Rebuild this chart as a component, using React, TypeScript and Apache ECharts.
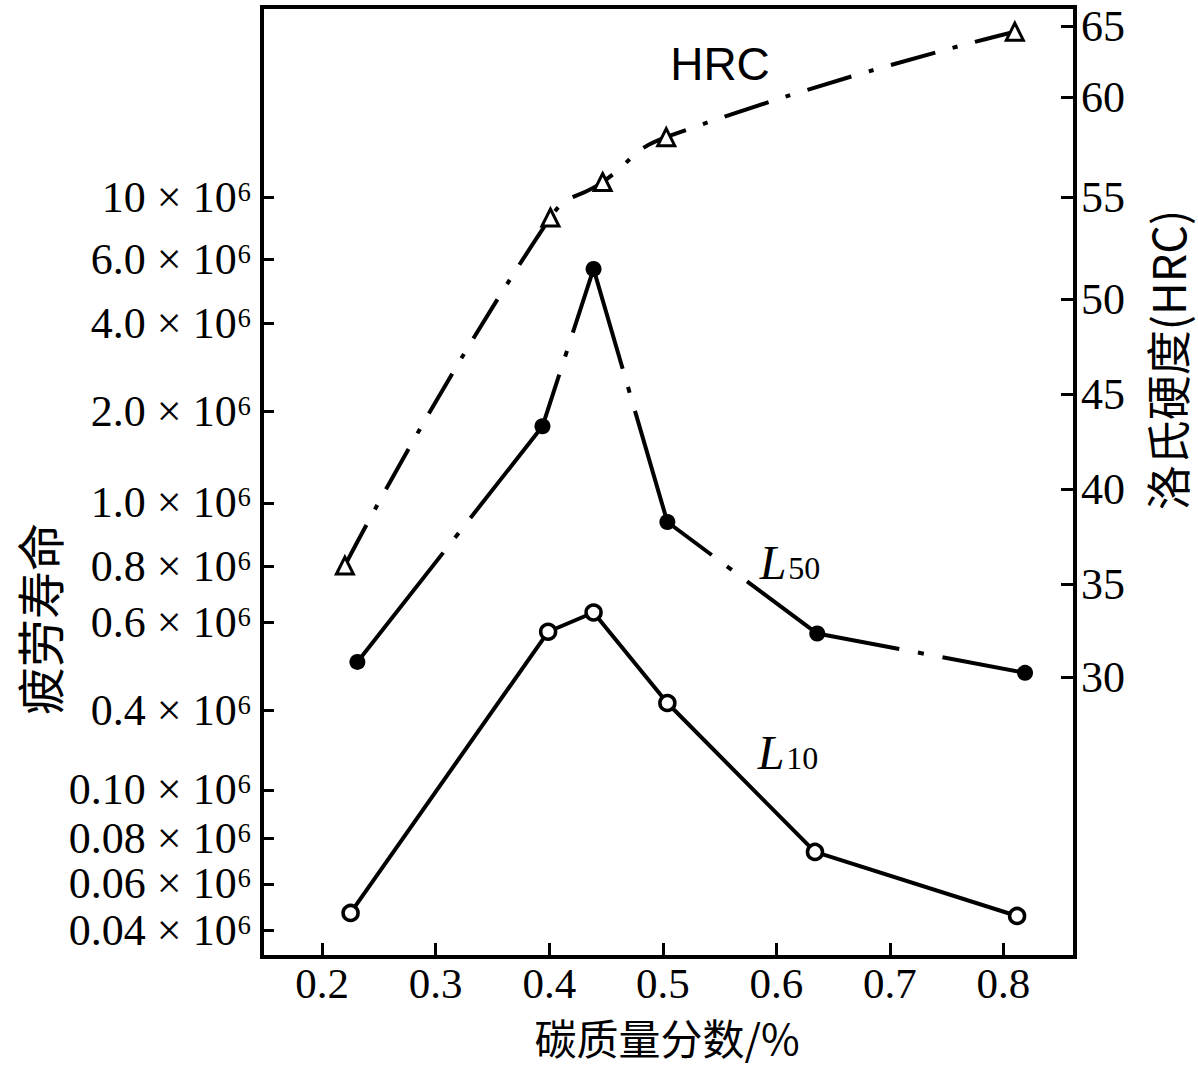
import React, { useEffect, useRef } from 'react';
import * as echarts from 'echarts';

// x: carbon mass fraction (%)
const carbonTicks = [0.2, 0.3, 0.4, 0.5, 0.6, 0.7, 0.8];

// L50 fatigue life (filled circles), in 10^6 cycles
const l50Carbon = [0.231, 0.394, 0.439, 0.504, 0.636, 0.819];
const l50Life = [0.51, 1.84, 5.71, 0.94, 0.575, 0.485];

// L10 fatigue life (open circles), in 10^6 cycles
const l10Carbon = [0.225, 0.399, 0.439, 0.504, 0.634, 0.812];
const l10Life = [0.0475, 0.579, 0.636, 0.416, 0.074, 0.0462];

// Rockwell hardness (open triangles)
const hrcCarbon = [0.22, 0.401, 0.447, 0.503, 0.81];
const hrcValue = [36.0, 54.0, 55.75, 58.0, 64.6];

// printed tick labels of the (non-uniform) left axis
const lifeTickValues = [0.04, 0.06, 0.08, 0.1, 0.4, 0.6, 0.8, 1.0, 2.0, 4.0, 6.0, 10];
const lifeTickLabels = [
  '0.04 × 10⁶', '0.06 × 10⁶', '0.08 × 10⁶', '0.10 × 10⁶', '0.4 × 10⁶', '0.6 × 10⁶',
  '0.8 × 10⁶', '1.0 × 10⁶', '2.0 × 10⁶', '4.0 × 10⁶', '6.0 × 10⁶', '10 × 10⁶',
];
// printed tick labels of the right axis
const hrcTickValues = [30, 35, 40, 45, 50, 55, 60, 65];

// axis calibration: where each printed tick sits along the axis (per-mille of axis height)
const lifeTickPos = [28, 77, 125, 176, 260, 352, 411, 478, 574, 667, 734, 800];
const hrcTickPos = [294, 392, 492, 592, 692, 800, 905, 980];

function toAxis(v: number, vals: number[], pos: number[]): number {
  let i = 0;
  while (i < vals.length - 2 && v > vals[i + 1]) i++;
  const t = (v - vals[i]) / (vals[i + 1] - vals[i]);
  return pos[i] + t * (pos[i + 1] - pos[i]);
}

const SERIF = '"Liberation Serif", "DejaVu Serif", serif';
const CJK = '"Noto Sans CJK SC", sans-serif';

function buildOption(): any {
  const l50 = l50Carbon.map((c, i) => [c, toAxis(l50Life[i], lifeTickValues, lifeTickPos)]);
  const l10 = l10Carbon.map((c, i) => [c, toAxis(l10Life[i], lifeTickValues, lifeTickPos)]);
  const hrc = hrcCarbon.map((c, i) => [c, toAxis(hrcValue[i], hrcTickValues, hrcTickPos)]);

  const labelFor = (pos: number[], labels: string[]) => (v: number) => {
    const idx = pos.findIndex((p) => Math.abs(p - v) < 0.01);
    return idx >= 0 ? labels[idx] : '';
  };

  // the left labels sit closer together than their height, so they are split
  // over two overlaid left axes (alternate ticks) to keep every label visible
  const evenPos = lifeTickPos.filter((_, i) => i % 2 === 0);
  const oddPos = lifeTickPos.filter((_, i) => i % 2 === 1);

  const lifeLabel = (custom: number[]) => ({
    customValues: custom,
    formatter: labelFor(lifeTickPos, lifeTickLabels),
    color: '#000',
    fontFamily: SERIF,
    fontSize: 44,
    margin: 10,
    hideOverlap: false,
    showMinLabel: true,
    showMaxLabel: true,
  });

  const yCommon = {
    type: 'value',
    min: 0,
    max: 1000,
    splitLine: { show: false },
  };

  const subLabel = (sub: string) => ({
    text: `{l|L}{s|${sub}}`,
    fill: '#000',
    align: 'center',
    verticalAlign: 'middle',
    rich: {
      l: { fontSize: 48, fontStyle: 'italic', fontFamily: SERIF, fill: '#000' },
      s: { fontSize: 32, fontFamily: SERIF, fill: '#000', padding: [12, 0, 0, 2] },
    },
  });

  return {
    animation: false,
    backgroundColor: '#fff',
    grid: {
      left: 262,
      right: 123,
      top: 7,
      bottom: 108,
      show: true,
      borderColor: '#000',
      borderWidth: 4,
      outerBoundsMode: 'none',
    },
    xAxis: {
      type: 'value',
      min: 0.147,
      max: 0.863,
      splitLine: { show: false },
      axisLine: { show: true, lineStyle: { color: '#000', width: 4 } },
      axisTick: {
        show: true,
        inside: true,
        length: 14,
        lineStyle: { color: '#000', width: 3 },
        customValues: carbonTicks,
      },
      axisLabel: {
        customValues: carbonTicks,
        formatter: (v: number) => v.toFixed(1),
        color: '#000',
        fontFamily: SERIF,
        fontSize: 43,
        lineHeight: 36,
        margin: 8,
        hideOverlap: false,
      },
    },
    yAxis: [
      {
        ...yCommon,
        position: 'left',
        axisLine: { show: true, lineStyle: { color: '#000', width: 4 } },
        axisTick: {
          show: true,
          inside: true,
          length: 12,
          lineStyle: { color: '#000', width: 3 },
          customValues: lifeTickPos,
        },
        axisLabel: lifeLabel(evenPos),
      },
      {
        ...yCommon,
        position: 'right',
        axisLine: { show: true, lineStyle: { color: '#000', width: 4 } },
        axisTick: {
          show: true,
          inside: true,
          length: 14,
          lineStyle: { color: '#000', width: 3 },
          customValues: hrcTickPos,
        },
        axisLabel: {
          customValues: hrcTickPos,
          formatter: labelFor(hrcTickPos, hrcTickValues.map(String)),
          color: '#000',
          fontFamily: SERIF,
          fontSize: 44,
          margin: 6,
          hideOverlap: false,
          showMinLabel: true,
          showMaxLabel: true,
        },
      },
      {
        ...yCommon,
        position: 'left',
        offset: 0,
        axisLine: { show: false },
        axisTick: { show: false },
        axisLabel: lifeLabel(oddPos),
      },
    ],
    series: [
      {
        name: 'HRC',
        type: 'line',
        yAxisIndex: 1,
        data: hrc,
        smooth: 0.5,
        symbol: 'triangle',
        symbolSize: 17,
        itemStyle: { color: '#fff', borderColor: '#000', borderWidth: 3 },
        lineStyle: { color: '#000', width: 4, type: [46, 18, 5, 18] },
        z: 2,
      },
      {
        name: 'L50',
        type: 'line',
        yAxisIndex: 0,
        data: l50,
        symbol: 'circle',
        symbolSize: 16,
        itemStyle: { color: '#000', borderColor: '#000', borderWidth: 0 },
        lineStyle: { color: '#000', width: 4, type: [171, 19, 6, 19], dashOffset: 32 },
        z: 3,
      },
      {
        name: 'L10',
        type: 'line',
        yAxisIndex: 0,
        data: l10,
        symbol: 'circle',
        symbolSize: 15,
        itemStyle: { color: '#fff', borderColor: '#000', borderWidth: 3.5 },
        lineStyle: { color: '#000', width: 4 },
        z: 3,
      },
    ],
    graphic: [
      {
        type: 'text',
        x: 720,
        y: 64,
        style: {
          text: 'HRC',
          fontSize: 46,
          fontFamily: '"Liberation Sans", sans-serif',
          fill: '#000',
          align: 'center',
          verticalAlign: 'middle',
        },
      },
      { type: 'text', x: 790, y: 562, style: subLabel('50') },
      { type: 'text', x: 788, y: 752, style: subLabel('10') },
      {
        type: 'text',
        x: 38,
        y: 619,
        rotation: Math.PI / 2,
        style: {
          text: '疲劳寿命',
          fontSize: 48,
          lineHeight: 48,
          fontFamily: CJK,
          fill: '#000',
          align: 'center',
          verticalAlign: 'middle',
        },
      },
      {
        type: 'text',
        x: 1166,
        y: 360,
        rotation: Math.PI / 2,
        style: {
          text: '洛氏硬度(HRC)',
          fontSize: 45,
          lineHeight: 45,
          fontFamily: CJK,
          fill: '#000',
          align: 'center',
          verticalAlign: 'middle',
        },
      },
      {
        type: 'text',
        x: 667,
        y: 1036,
        style: {
          text: '碳质量分数/%',
          fontSize: 42,
          lineHeight: 42,
          fontFamily: CJK,
          fill: '#000',
          align: 'center',
          verticalAlign: 'middle',
        },
      },
    ],
  };
}

export default function App() {
  const ref = useRef<HTMLDivElement>(null);
  useEffect(() => {
    if (!ref.current) return;
    const chart = echarts.init(ref.current, null, { renderer: 'svg' });
    chart.setOption(buildOption());
    return () => chart.dispose();
  }, []);
  return (
    <div
      ref={ref}
      style={{ position: 'fixed', left: 0, top: 0, width: 1198, height: 1065, background: '#fff' }}
    />
  );
}
